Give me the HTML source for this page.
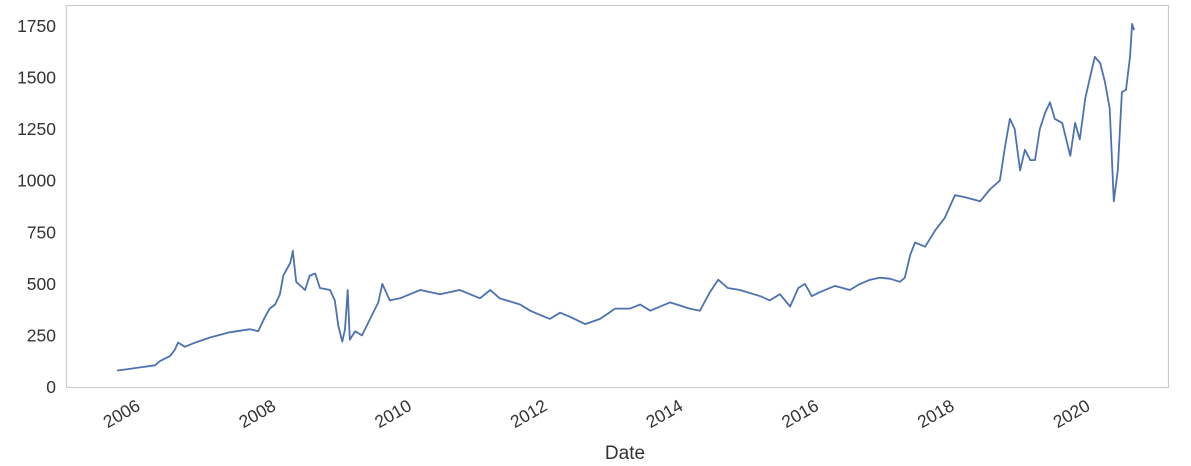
<!DOCTYPE html>
<html><head><meta charset="utf-8"><style>body{margin:0;background:#fff}svg{display:block;font-family:"Liberation Sans","DejaVu Sans",sans-serif}</style></head>
<body>
<svg id="chart" width="1191" height="466" viewBox="0 0 1191 466" xmlns="http://www.w3.org/2000/svg">
<rect x="66.5" y="5.5" width="1102" height="382" fill="#fff" stroke="#cccccc" stroke-width="1.2"/>
<g id="yt"></g><g id="xt"></g>
<path id="line" fill="none" stroke="#4c72b0" stroke-width="1.8" stroke-linejoin="round"/>
<text x="625" y="459" font-size="19" fill="#333" text-anchor="middle">Date</text>
</svg>
<script>
const dates=[2005.75,2005.87,2006.09,2006.31,2006.38,2006.53,2006.60,2006.65,2006.75,2006.90,2007.12,2007.41,2007.71,2007.83,2007.93,2008.00,2008.08,2008.15,2008.20,2008.30,2008.33,2008.34,2008.39,2008.52,2008.59,2008.67,2008.74,2008.89,2008.96,2009.01,2009.07,2009.11,2009.15,2009.18,2009.26,2009.36,2009.48,2009.60,2009.66,2009.77,2009.92,2010.22,2010.51,2010.80,2011.10,2011.25,2011.39,2011.69,2011.84,2011.98,2012.13,2012.28,2012.43,2012.65,2012.87,2013.09,2013.31,2013.46,2013.61,2013.90,2014.19,2014.34,2014.49,2014.61,2014.75,2014.93,2015.23,2015.37,2015.52,2015.67,2015.79,2015.89,2015.99,2016.11,2016.33,2016.55,2016.70,2016.85,2016.99,2017.14,2017.29,2017.36,2017.44,2017.51,2017.66,2017.81,2017.95,2018.10,2018.25,2018.47,2018.62,2018.76,2018.84,2018.91,2018.98,2019.06,2019.13,2019.21,2019.28,2019.35,2019.43,2019.50,2019.57,2019.68,2019.80,2019.87,2019.94,2020.02,2020.09,2020.16,2020.24,2020.31,2020.38,2020.44,2020.50,2020.56,2020.62,2020.68,2020.71,2020.74];
const prices=[80,85,95,105,125,150,180,215,195,215,240,265,280,270,340,380,400,450,540,600,640,660,510,470,540,550,480,470,420,300,220,280,470,230,270,250,330,410,500,420,430,470,450,470,430,470,430,400,370,350,330,360,340,305,330,380,380,400,370,410,380,370,460,520,480,470,440,420,450,390,480,500,440,460,490,470,500,520,530,525,510,530,640,700,680,760,820,930,920,900,960,1000,1170,1300,1250,1050,1150,1100,1100,1250,1330,1380,1300,1280,1120,1280,1200,1400,1500,1600,1570,1480,1350,900,1050,1430,1440,1600,1760,1730];
const yTicks=[0,250,500,750,1000,1250,1500,1750];
const xTicks=[2006,2008,2010,2012,2014,2016,2018,2020];
const X=t=>134+(t-2006)*67.85, Y=v=>387-v*0.2063;
const NS="http://www.w3.org/2000/svg";
const yt=document.getElementById('yt'), xt=document.getElementById('xt');
yTicks.forEach(v=>{const t=document.createElementNS(NS,'text');


t.setAttribute('x',56);t.setAttribute('y',Y(v)+6);t.setAttribute('font-size','17.5');t.setAttribute('fill','#333');t.setAttribute('text-anchor','end');t.textContent=v;yt.appendChild(t);});
xTicks.forEach(v=>{const t=document.createElementNS(NS,'text');


const x=X(v)+1,y=398;t.setAttribute('x',x);t.setAttribute('y',y);t.setAttribute('font-size','17.5');t.setAttribute('fill','#333');t.setAttribute('text-anchor','end');t.setAttribute('dominant-baseline','hanging');t.setAttribute('transform',`rotate(-30 ${x} ${y})`);t.textContent=v;xt.appendChild(t);});
document.getElementById('line').setAttribute('d',dates.map((d,i)=>(i?'L':'M')+X(d).toFixed(1)+' '+Y(prices[i]).toFixed(1)).join(''));
</script>
</body></html>
